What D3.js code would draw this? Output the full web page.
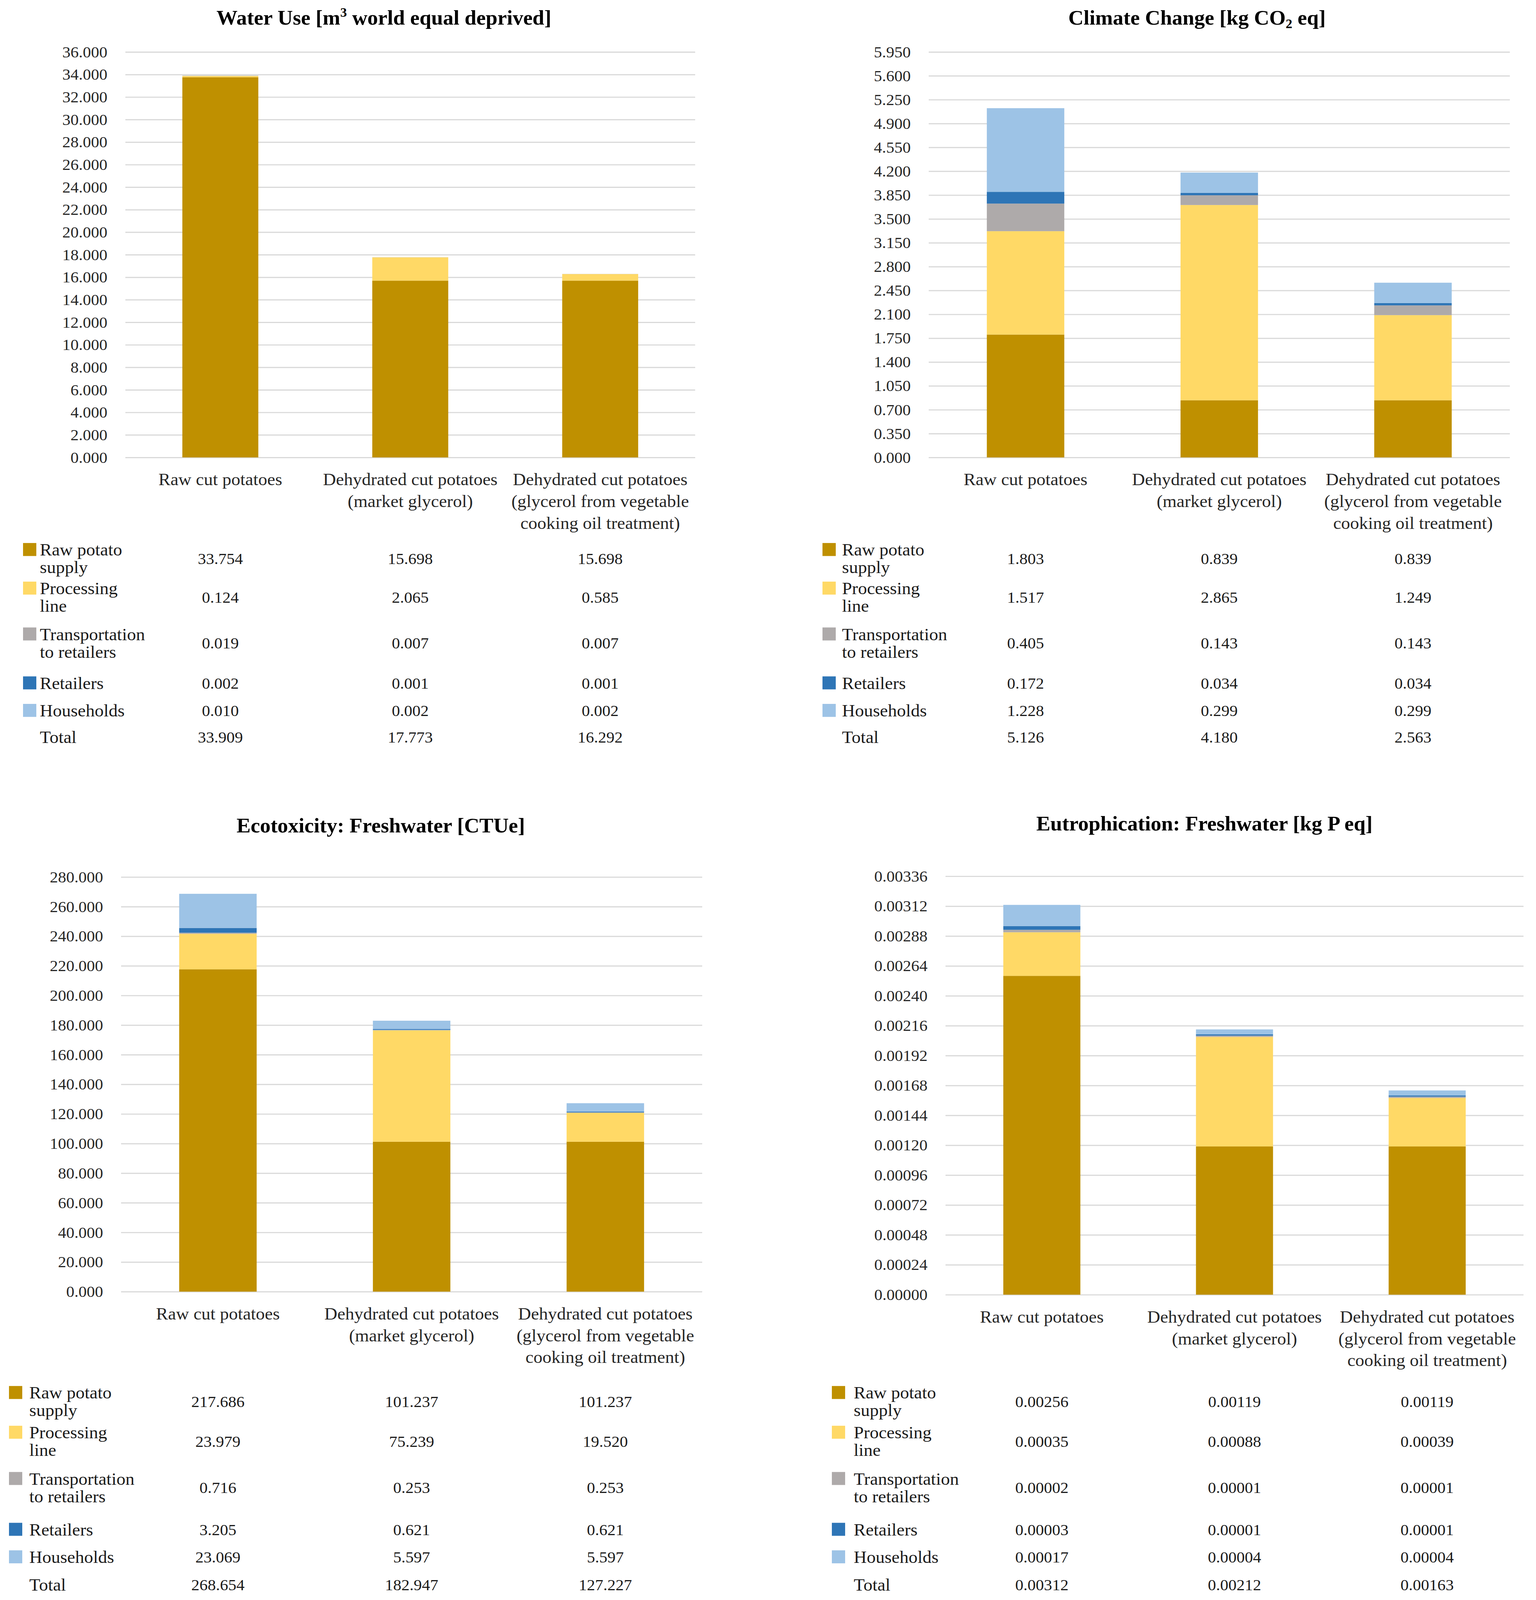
<!DOCTYPE html>
<meta charset="utf-8">
<script src="https://d3js.org/d3.v7.min.js"></script>
<style>
  html, body { margin: 0; padding: 0; background: #fff; overflow: hidden; }
  svg { display: block; }
  text { font-family: "Liberation Serif", "Times New Roman", serif; }
</style>
<body>
  <div id="container"></div>
</body>
<script>
    // categories on the x axis (line breaks = label wrapping)
    var categories = ["Raw cut potatoes",
                      "Dehydrated cut potatoes\n(market glycerol)",
                      "Dehydrated cut potatoes\n(glycerol from vegetable\ncooking oil treatment)"];

    // life cycle stages (stack order, bottom to top)
    var stages = ["Raw potato\nsupply", "Processing\nline", "Transportation\nto retailers", "Retailers", "Households"];
    var stageColors = ["#BF9000", "#FFD966", "#AEAAAA", "#2E75B6", "#9DC3E6"];

    // values per stage (rows) and category (columns)
    var waterUse = [
      [33.754, 15.698, 15.698],
      [0.124, 2.065, 0.585],
      [0.019, 0.007, 0.007],
      [0.002, 0.001, 0.001],
      [0.010, 0.002, 0.002]
    ];
    var waterTotals = [33.909, 17.773, 16.292];

    var climateChange = [
      [1.803, 0.839, 0.839],
      [1.517, 2.865, 1.249],
      [0.405, 0.143, 0.143],
      [0.172, 0.034, 0.034],
      [1.228, 0.299, 0.299]
    ];
    var climateTotals = [5.126, 4.180, 2.563];

    var ecotoxicity = [
      [217.686, 101.237, 101.237],
      [23.979, 75.239, 19.520],
      [0.716, 0.253, 0.253],
      [3.205, 0.621, 0.621],
      [23.069, 5.597, 5.597]
    ];
    var ecotoxTotals = [268.654, 182.947, 127.227];

    var eutrophication = [
      [0.00256, 0.00119, 0.00119],
      [0.00035, 0.00088, 0.00039],
      [0.00002, 0.00001, 0.00001],
      [0.00003, 0.00001, 0.00001],
      [0.00017, 0.00004, 0.00004]
    ];
    var eutroTotals = [0.00312, 0.00212, 0.00163];

    // y axis: top tick and tick step
    var waterAxis = [36, 2];
    var climateAxis = [5.95, 0.35];
    var ecotoxAxis = [280, 20];
    var eutroAxis = [0.00336, 0.00024];

    var W = 3933, H = 4187;
    // fit the drawing to whatever the viewport really is
    var vw = window.innerWidth || W, vh = window.innerHeight || H;
    var svg = d3.select("#container")
      .append("svg")
      .attr("width", vw)
      .attr("height", vh)
      .attr("viewBox", "0 0 " + W + " " + H)
      .attr("preserveAspectRatio", "none");

    // panel layout
    var panels = [
      { title: ["Water Use [m", {sup: "3"}, " world equal deprived]"], values: waterUse, totals: waterTotals, axis: waterAxis, digits: 3,
        x0: 321, x1: 1780, top: 136, bottom: 1197, titleX: 983, titleY: 64, swX: 59, labX: 102,
        rows: [1462, 1563, 1683, 1788, 1860, 1929] },
      { title: ["Climate Change [kg CO", {sub: "2"}, " eq]"], values: climateChange, totals: climateTotals, axis: climateAxis, digits: 3,
        x0: 2378, x1: 3866, top: 136, bottom: 1197, titleX: 3065, titleY: 64, swX: 2106, labX: 2156,
        rows: [1462, 1563, 1683, 1788, 1860, 1929] },
      { title: ["Ecotoxicity: Freshwater [CTUe]"], values: ecotoxicity, totals: ecotoxTotals, axis: ecotoxAxis, digits: 3,
        x0: 310, x1: 1798, top: 2295, bottom: 3380, titleX: 975, titleY: 2178, swX: 23, labX: 75,
        rows: [3668, 3772, 3893, 4003, 4075, 4147] },
      { title: ["Eutrophication: Freshwater [kg P eq]"], values: eutrophication, totals: eutroTotals, axis: eutroAxis, digits: 5,
        x0: 2421, x1: 3901, top: 2293, bottom: 3388, titleX: 3084, titleY: 2173, swX: 2130, labX: 2186,
        rows: [3668, 3772, 3893, 4003, 4075, 4147] }
    ];

    panels.forEach(drawPanel);

    function drawPanel(p) {
      var g = svg.append("g");

      // title with super/subscripts
      var t = g.append("text")
        .attr("x", p.titleX)
        .attr("y", p.titleY)
        .attr("text-anchor", "middle")
        .attr("font-size", 54)
        .attr("font-weight", "bold")
        .attr("fill", "#000");
      var shift = 0;
      p.title.forEach(function(part) {
        if (typeof part === "string") {
          t.append("tspan").attr("dy", -shift).text(part);
          shift = 0;
        } else if (part.sup) {
          t.append("tspan").attr("font-size", 34).attr("dy", -20).text(part.sup);
          shift = -20;
        } else {
          t.append("tspan").attr("font-size", 34).attr("dy", 10).text(part.sub);
          shift = 10;
        }
      });

      var x = d3.scaleBand()
        .domain(categories)
        .range([p.x0, p.x1])
        .paddingInner(0.6)
        .paddingOuter(0.3);

      var y = d3.scaleLinear()
        .domain([0, p.axis[0]])
        .range([p.bottom, p.top]);

      var n = Math.round(p.axis[0] / p.axis[1]);
      var ticks = d3.range(0, n + 1).map(function(i) { return i * p.axis[1]; });
      var fmt = d3.format("." + p.digits + "f");

      // y axis with gridlines
      var ax = g.append("g")
        .attr("transform", "translate(" + p.x0 + ",0)")
        .call(d3.axisLeft(y)
          .tickValues(ticks)
          .tickFormat(fmt)
          .tickSize(-(p.x1 - p.x0))
          .tickPadding(46));
      ax.select(".domain").remove();
      ax.selectAll(".tick line").attr("stroke", "#D9D9D9").attr("stroke-width", 3);
      ax.selectAll(".tick text")
        .attr("font-family", "Liberation Serif")
        .attr("font-size", 42)
        .attr("fill", "#262626");

      // stacked bars
      var rows = categories.map(function(c, j) {
        var r = { cat: c };
        stages.forEach(function(s, i) { r[s] = p.values[i][j]; });
        return r;
      });
      var series = d3.stack().keys(stages)(rows);

      g.append("g")
        .selectAll("g")
        .data(series)
        .join("g")
          .attr("fill", function(d, i) { return stageColors[i]; })
        .selectAll("rect")
        .data(function(d) { return d; })
        .join("rect")
          .attr("x", function(d) { return x(d.data.cat); })
          .attr("width", x.bandwidth())
          .attr("y", function(d) { return y(d[1]); })
          .attr("height", function(d) { return y(d[0]) - y(d[1]); });

      // category labels
      categories.forEach(function(c) {
        var lab = g.append("text")
          .attr("x", x(c) + x.bandwidth() / 2)
          .attr("y", p.bottom + 73)
          .attr("text-anchor", "middle")
          .attr("font-size", 46)
          .attr("fill", "#262626");
        c.split("\n").forEach(function(line, k) {
          lab.append("tspan")
            .attr("x", x(c) + x.bandwidth() / 2)
            .attr("dy", k === 0 ? 0 : 57)
            .text(line);
        });
      });

      // data table with legend keys
      var tbl = g.append("g");
      stages.concat(["Total"]).forEach(function(s, i) {
        var lines = s.split("\n");
        var cy = p.rows[i];
        var firstY = lines.length > 1 ? cy - 23 : cy;
        if (i < stages.length) {
          tbl.append("rect")
            .attr("x", p.swX)
            .attr("y", firstY - 18)
            .attr("width", 34)
            .attr("height", 34)
            .attr("fill", stageColors[i]);
        }
        var lt = tbl.append("text")
          .attr("font-size", 46)
          .attr("fill", "#1a1a1a");
        lines.forEach(function(line, k) {
          lt.append("tspan")
            .attr("x", p.labX)
            .attr("y", firstY + 15 + k * 46)
            .text(line);
        });
        var vals = i < stages.length ? p.values[i] : p.totals;
        categories.forEach(function(c, j) {
          tbl.append("text")
            .attr("x", x(c) + x.bandwidth() / 2)
            .attr("y", cy + 14)
            .attr("text-anchor", "middle")
            .attr("font-size", 42)
            .attr("fill", "#1a1a1a")
            .text(fmt(vals[j]));
        });
      });
    }
</script>
